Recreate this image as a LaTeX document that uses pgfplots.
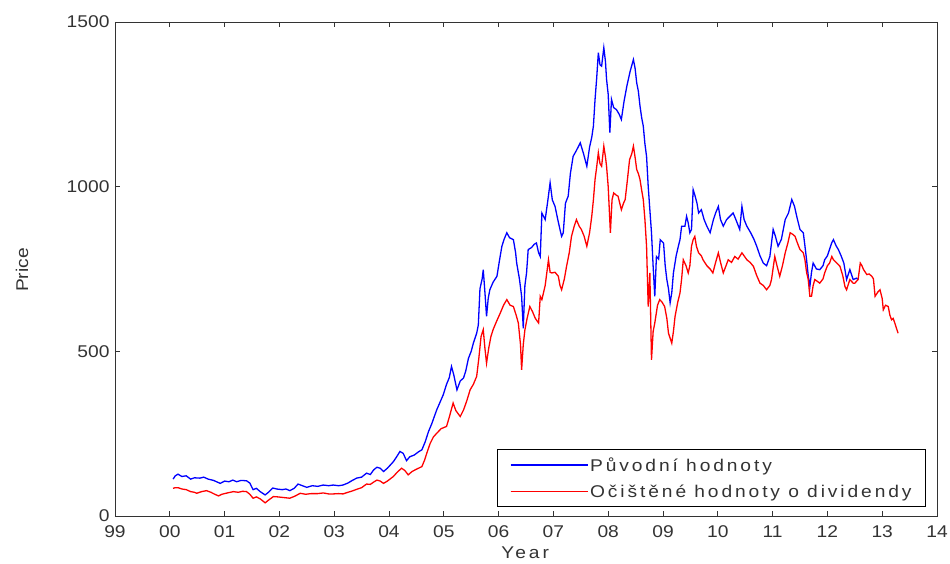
\documentclass[border=0pt]{standalone}
\usepackage{fontspec}
\setmainfont{Liberation Sans}[FakeStretch=1.13]
\newfontfamily\lsfont{Liberation Sans}[FakeStretch=1.13, LetterSpace=17]
\usepackage{pgfplots}
\pgfplotsset{compat=1.18}
\begin{document}
\begin{tikzpicture}
\begin{axis}[
  scale only axis,
  width=822bp, height=494bp,
  xmin=1999, xmax=2014, ymin=0, ymax=1500,
  xtick={1999,2000,2001,2002,2003,2004,2005,2006,2007,2008,2009,2010,2011,2012,2013,2014},
  xticklabels={99,00,01,02,03,04,05,06,07,08,09,10,11,12,13,14},
  ytick={0,500,1000,1500},
  scaled y ticks=false,
  /pgf/number format/assume math mode=true,
  /pgf/number format/set thousands separator={},
  tick align=inside,
  major tick length=5bp,
  axis line style={black!80, line width=0.9bp},
  every tick/.style={black!80, line width=0.9bp},
  tick label style={font=\fontsize{17bp}{20bp}\selectfont, black!80},
  xticklabel style={yshift=-6bp},
  yticklabel style={xshift=-2bp},
  xlabel={Year},
  ylabel={Price},
  xlabel style={font=\fontsize{17bp}{20bp}\selectfont\lsfont, black!80,
    at={(axis description cs:0.499,-0.0749)}, anchor=center},
  ylabel style={font=\fontsize{17bp}{20bp}\selectfont, black!80,
    at={(axis description cs:-0.1131,0.498)}, anchor=center, rotate=0},
  legend style={at={(axis description cs:0.9866,0.018)}, anchor=south east,
    draw=black, line width=0.9bp, inner xsep=12bp, inner ysep=6bp,
    font=\fontsize{17bp}{20bp}\selectfont\lsfont, text=black!80,
    row sep=8bp, cells={anchor=west}},
  legend image code/.code={\draw[#1, line width=1bp] (0bp,0bp) -- (75bp,0bp);
    \path (0bp,0bp) -- (77bp,0bp);},
]
\addplot[blue, line width=1.3bp] table {
2000.06 112
2000.10 122
2000.15 127
2000.22 120
2000.30 122
2000.38 112
2000.45 116
2000.55 115
2000.62 118
2000.70 112
2000.80 108
2000.92 99
2001.00 106
2001.08 104
2001.15 109
2001.22 104
2001.30 108
2001.40 107
2001.46 100
2001.52 80
2001.58 84
2001.65 74
2001.74 64
2001.80 72
2001.88 85
2001.95 82
2002.05 80
2002.12 82
2002.19 77
2002.27 84
2002.34 97
2002.42 92
2002.50 87
2002.60 92
2002.70 90
2002.80 94
2002.90 92
2002.98 94
2003.08 92
2003.16 94
2003.25 100
2003.33 108
2003.41 115
2003.50 118
2003.59 130
2003.66 126
2003.72 140
2003.78 148
2003.84 145
2003.90 135
2003.97 145
2004.08 165
2004.14 180
2004.20 196
2004.26 190
2004.32 168
2004.38 180
2004.46 185
2004.54 195
2004.60 201
2004.66 225
2004.72 256
2004.78 280
2004.87 322
2004.93 345
2004.99 368
2005.05 400
2005.10 420
2005.14 454
2005.18 430
2005.24 383
2005.30 410
2005.36 419
2005.40 440
2005.45 479
2005.50 500
2005.54 525
2005.60 555
2005.63 580
2005.66 690
2005.70 720
2005.72 748
2005.75 680
2005.78 606
2005.81 660
2005.84 687
2005.90 710
2005.97 728
2006.02 780
2006.06 819
2006.10 840
2006.15 860
2006.20 845
2006.27 839
2006.31 800
2006.33 768
2006.38 720
2006.42 667
2006.45 570
2006.48 700
2006.51 738
2006.54 809
2006.60 815
2006.65 825
2006.69 829
2006.73 799
2006.76 788
2006.79 920
2006.85 900
2006.90 960
2006.94 1012
2006.98 960
2007.03 940
2007.08 900
2007.12 870
2007.15 849
2007.18 860
2007.22 950
2007.27 971
2007.31 1040
2007.36 1092
2007.42 1110
2007.49 1133
2007.55 1100
2007.61 1062
2007.66 1120
2007.70 1150
2007.73 1184
2007.76 1265
2007.79 1330
2007.82 1407
2007.85 1370
2007.88 1366
2007.92 1422
2007.95 1380
2007.97 1326
2008.00 1280
2008.03 1164
2008.06 1265
2008.10 1240
2008.15 1234
2008.20 1220
2008.24 1204
2008.29 1260
2008.34 1305
2008.40 1350
2008.46 1386
2008.49 1360
2008.52 1315
2008.55 1290
2008.58 1245
2008.61 1210
2008.64 1184
2008.67 1130
2008.70 1092
2008.73 1001
2008.76 930
2008.79 860
2008.82 758
2008.85 667
2008.88 788
2008.92 780
2008.95 839
2009.01 829
2009.04 760
2009.07 718
2009.10 690
2009.13 647
2009.16 678
2009.19 738
2009.24 790
2009.28 819
2009.31 839
2009.34 880
2009.40 880
2009.43 910
2009.46 890
2009.49 860
2009.52 870
2009.55 991
2009.58 975
2009.62 950
2009.65 920
2009.70 930
2009.75 900
2009.80 880
2009.86 860
2009.92 900
2009.96 920
2010.01 940
2010.05 900
2010.10 880
2010.16 900
2010.22 910
2010.28 920
2010.33 900
2010.40 870
2010.44 940
2010.48 900
2010.53 880
2010.60 860
2010.66 840
2010.71 819
2010.77 790
2010.83 768
2010.89 760
2010.95 788
2011.01 870
2011.05 850
2011.10 819
2011.16 840
2011.23 900
2011.29 920
2011.35 961
2011.40 940
2011.44 910
2011.50 870
2011.56 860
2011.59 820
2011.62 778
2011.65 730
2011.68 697
2011.71 740
2011.74 768
2011.80 750
2011.86 748
2011.92 760
2011.95 778
2012.00 790
2012.04 810
2012.08 830
2012.11 839
2012.16 820
2012.20 809
2012.25 790
2012.30 768
2012.35 718
2012.41 748
2012.47 718
2012.53 722
2012.56 718
};
\addlegendentry{Původní hodnoty}
\addplot[red, line width=1.3bp] table {
2000.06 84
2000.10 86
2000.15 86
2000.22 82
2000.30 80
2000.38 74
2000.45 72
2000.49 69
2000.58 74
2000.67 77
2000.75 72
2000.82 66
2000.89 61
2000.95 66
2001.05 70
2001.16 74
2001.25 72
2001.33 75
2001.40 74
2001.46 66
2001.52 54
2001.58 58
2001.65 52
2001.74 40
2001.80 48
2001.89 59
2001.97 58
2002.08 56
2002.19 54
2002.28 60
2002.38 69
2002.48 66
2002.58 68
2002.70 68
2002.80 70
2002.90 67
2002.98 67
2003.08 68
2003.16 67
2003.25 72
2003.33 76
2003.41 81
2003.50 86
2003.59 97
2003.66 96
2003.72 103
2003.78 109
2003.84 106
2003.90 99
2003.97 106
2004.08 120
2004.15 133
2004.23 145
2004.29 138
2004.35 125
2004.42 135
2004.50 142
2004.60 150
2004.65 170
2004.69 191
2004.75 220
2004.81 240
2004.87 251
2004.95 265
2005.05 272
2005.10 300
2005.17 343
2005.22 320
2005.30 302
2005.36 322
2005.42 350
2005.48 383
2005.54 400
2005.60 424
2005.64 480
2005.68 545
2005.72 566
2005.75 510
2005.78 464
2005.82 510
2005.86 545
2005.90 566
2005.96 590
2006.03 616
2006.09 640
2006.15 657
2006.21 640
2006.27 636
2006.32 610
2006.36 586
2006.40 520
2006.42 444
2006.45 520
2006.48 565
2006.52 600
2006.57 636
2006.62 620
2006.67 600
2006.73 586
2006.76 667
2006.79 657
2006.85 700
2006.91 778
2006.94 740
2006.97 738
2007.03 740
2007.09 728
2007.12 700
2007.15 687
2007.20 720
2007.24 758
2007.29 800
2007.33 849
2007.38 880
2007.42 900
2007.47 880
2007.51 870
2007.56 850
2007.61 819
2007.66 860
2007.70 910
2007.73 960
2007.76 1022
2007.79 1060
2007.82 1103
2007.85 1070
2007.88 1062
2007.92 1123
2007.95 1090
2007.97 1062
2008.00 1000
2008.04 860
2008.07 960
2008.10 981
2008.14 975
2008.18 971
2008.24 930
2008.28 950
2008.31 961
2008.35 1020
2008.39 1082
2008.43 1100
2008.46 1123
2008.49 1090
2008.52 1052
2008.55 1040
2008.58 1022
2008.61 990
2008.64 961
2008.67 900
2008.70 819
2008.73 636
2008.76 738
2008.79 474
2008.82 560
2008.85 586
2008.90 640
2008.94 657
2008.98 650
2009.03 636
2009.07 600
2009.10 555
2009.13 540
2009.16 525
2009.19 560
2009.22 606
2009.27 650
2009.31 677
2009.34 720
2009.37 778
2009.42 760
2009.46 738
2009.49 760
2009.52 819
2009.55 839
2009.58 849
2009.61 819
2009.65 799
2009.70 790
2009.73 778
2009.80 760
2009.86 750
2009.91 738
2009.96 770
2010.01 799
2010.05 770
2010.10 738
2010.15 760
2010.19 778
2010.25 770
2010.31 788
2010.37 780
2010.44 799
2010.48 790
2010.53 778
2010.59 770
2010.65 758
2010.71 730
2010.77 707
2010.83 700
2010.89 687
2010.95 700
2010.98 718
2011.04 788
2011.08 760
2011.13 728
2011.18 760
2011.23 799
2011.28 830
2011.32 860
2011.37 855
2011.41 849
2011.45 830
2011.50 809
2011.56 799
2011.59 778
2011.62 740
2011.65 718
2011.68 667
2011.71 667
2011.74 700
2011.77 718
2011.82 712
2011.86 707
2011.92 720
2011.95 738
2012.00 760
2012.04 768
2012.08 788
2012.11 778
2012.16 770
2012.23 758
2012.28 730
2012.32 697
2012.35 687
2012.41 718
2012.47 707
2012.50 707
2012.56 718
2012.60 768
2012.63 760
2012.66 748
2012.72 733
2012.76 735
2012.81 728
2012.84 720
2012.87 667
2012.92 680
2012.96 687
2013.00 660
2013.02 626
2013.06 640
2013.11 636
2013.14 610
2013.17 596
2013.20 600
2013.23 586
2013.26 570
2013.29 555
};
\addlegendentry{Očištěné hodnoty o dividendy}
\end{axis}
\pgfresetboundingbox
\path[use as bounding box] (-115bp,-48bp) rectangle (835bp,516bp);
\end{tikzpicture}
\end{document}
